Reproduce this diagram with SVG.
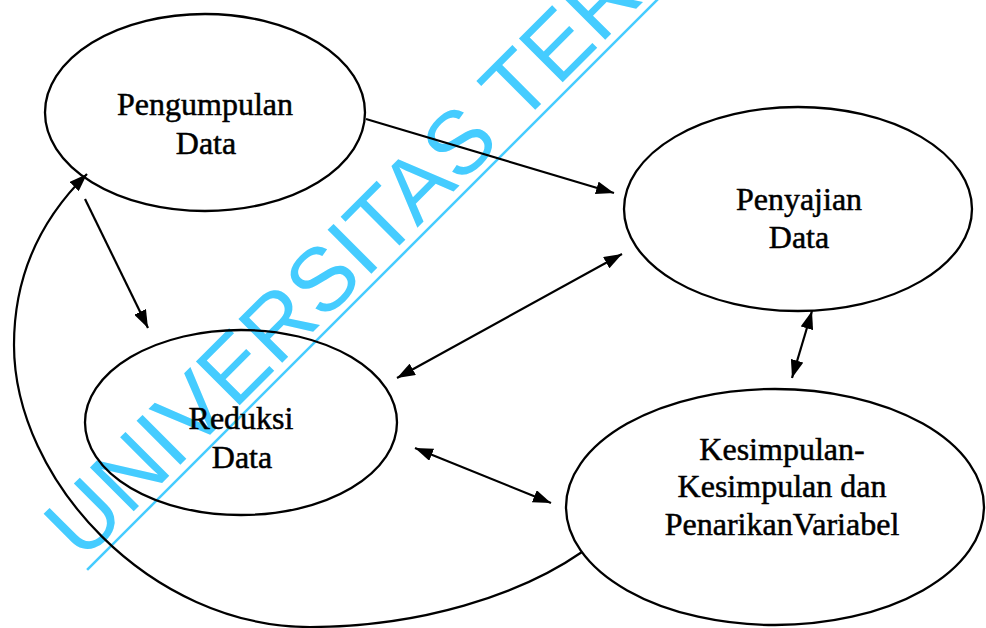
<svg xmlns="http://www.w3.org/2000/svg" width="986" height="628" viewBox="0 0 986 628">
<style>
.node ellipse{fill:none;stroke:#000;stroke-width:2.3}
.node text{font-family:"Liberation Serif","Times New Roman",serif;font-size:32px;fill:#000;stroke:#000;stroke-width:0.5;text-anchor:middle}
.conn path,.conn line{fill:none;stroke:#000;stroke-width:2.2}
.wm{font-family:"Liberation Sans",Arial,sans-serif;font-size:90px;fill:#45CCFF}
</style>
<defs>
<marker id="ah" viewBox="0 0 18 13" refX="18" refY="6.5" markerWidth="18" markerHeight="13" markerUnits="userSpaceOnUse" orient="auto-start-reverse">
<path d="M0,0 L18,6.5 L0,13 z" fill="#000"/>
</marker>
</defs>
<rect width="986" height="628" fill="#fff"/>
<g id="watermark" transform="translate(82.5,562.5) rotate(-45)">
<text class="wm" x="0" y="0">UNIVERSITAS TER</text>
<line x1="-2" y1="8.5" x2="950" y2="8.5" stroke="#45CCFF" stroke-width="2.5"/>
</g>
<g class="conn" id="connectors">
<line x1="366" y1="119" x2="614" y2="193" marker-end="url(#ah)"/>
<line x1="85" y1="199" x2="148" y2="328" marker-end="url(#ah)"/>
<line x1="397" y1="378" x2="622" y2="254" marker-start="url(#ah)" marker-end="url(#ah)"/>
<line x1="415" y1="448" x2="551" y2="503" marker-start="url(#ah)" marker-end="url(#ah)"/>
<line x1="812" y1="311" x2="792" y2="378" marker-start="url(#ah)" marker-end="url(#ah)"/>
<path d="M582,552 C520,595 420,627 310,627 C150,627 14,480 14,345 C14,270 45,215 87,174" marker-end="url(#ah)"/>
</g>
<g class="node" id="pengumpulan">
<ellipse cx="205" cy="112.5" rx="160" ry="98.5"/>
<text x="205" y="115">Pengumpulan</text>
<text x="206" y="154">Data</text>
</g>
<g class="node" id="penyajian">
<ellipse cx="798" cy="209" rx="174" ry="102"/>
<text x="799" y="210">Penyajian</text>
<text x="799" y="248">Data</text>
</g>
<g class="node" id="reduksi">
<ellipse cx="241" cy="422.5" rx="156" ry="92.5"/>
<text x="241" y="429">Reduksi</text>
<text x="242" y="468">Data</text>
</g>
<g class="node" id="kesimpulan">
<ellipse cx="775" cy="507" rx="209" ry="118"/>
<text x="782" y="460">Kesimpulan-</text>
<text x="782" y="497">Kesimpulan dan</text>
<text x="782" y="535">PenarikanVariabel</text>
</g>
</svg>
